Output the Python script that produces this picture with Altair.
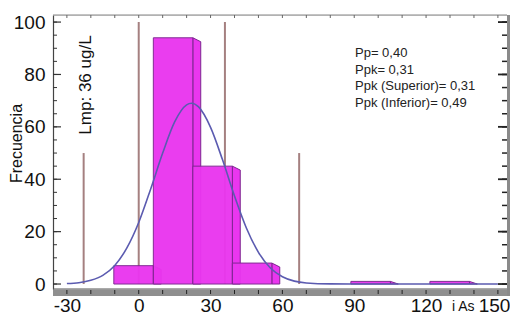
import altair as alt
import pandas as pd

# ---- data ----
bin_start = [-10.4, 6.1, 22.6, 39.1, 88.6, 121.6]
bin_end = [6.1, 22.6, 39.1, 55.6, 105.1, 138.1]
counts = [7, 94, 45, 8, 1, 1]

curve_x = [-30, -25, -20, -15, -10, -5, 0, 5, 10, 15, 20, 22, 25, 30, 35, 40, 45, 50, 55, 60, 65, 70, 80, 100, 150]
curve_y = [0.2, 0.5, 1.4, 3.3, 7.1, 13.7, 23.5, 36.3, 50, 61.9, 68.4, 69, 67.6, 59.8, 47.4, 33.6, 21.3, 12.1, 6.1, 2.8, 1.1, 0.4, 0.05, 0, 0]

spec_x = [-23, 0, 36, 67]
spec_top = [50, 100, 100, 50]

stats_lines = ["Pp= 0,40", "Ppk= 0,31", "Ppk (Superior)= 0,31", "Ppk (Inferior)= 0,49"]
lmp_label = "Lmp: 36 ug/L"
y_title = "Frecuencia"
x_title = "i As"

x_ticks = list(range(-30, 151, 10))
x_labels = [-30, 0, 30, 60, 90, 120, 150]
y_ticks = list(range(0, 101, 5))
y_labels = [0, 20, 40, 60, 80, 100]

# ---- styles ----
W, H = 454, 274
WALL = 3
DX, DY = 3.3, 1.5  # 3-D depth of the bars, in data units
BAR = "#ea36ef"
EDGE = "#7d2590"
CURVE = "#5b5bb0"
SPEC = "#a58080"
FONT = "Liberation Sans"

xs = alt.Scale(domain=[-35.8, 153.8], nice=False, zero=False)
ys = alt.Scale(domain=[-1.9, 102.7], nice=False, zero=False)

bars = pd.DataFrame({"x0": bin_start, "x1": bin_end, "n": counts, "id": range(len(counts))})
side_rows = []
for i, (e, n) in enumerate(zip(bin_end, counts)):
    side_rows.append({"id": i, "x": e, "top": n})
    side_rows.append({"id": i, "x": e + DX, "top": max(n - DY, 0)})
sides = pd.DataFrame(side_rows)
curve = pd.DataFrame({"x": curve_x, "y": curve_y})
spec = pd.DataFrame({"x": spec_x, "top": spec_top})
one = pd.DataFrame({"a": [0]})
xt = pd.DataFrame({"x": x_ticks})
xl = pd.DataFrame({"x": x_labels})
ytk = pd.DataFrame({"y": y_ticks})
yl = pd.DataFrame({"y": y_labels})

last_x = "datum.value == %d" % x_labels[-1]
base_axes = alt.Chart(xl).mark_point(opacity=0).encode(
    x=alt.X("x:Q", scale=xs, axis=alt.Axis(
        values=x_labels, title=None, ticks=False, domain=False, grid=False,
        labelFont=FONT, labelFontSize=19, labelColor="#111", labelPadding=7,
        labelExpr="datum.value + ''",
        labelAlign={"condition": {"test": last_x, "value": "right"}, "value": "center"},
        labelOffset={"condition": {"test": last_x, "value": 12}, "value": 0})),
    y=alt.Y("y:Q", scale=ys, axis=alt.Axis(values=y_labels, title=y_title, ticks=False, grid=False,
                                           domainColor="#444", domainWidth=1.2,
                                           labelFont=FONT, labelFontSize=19, labelColor="#111",
                                           labelPadding=8, titleFont=FONT,
                                           titleFontSize=16, titleFontWeight="normal",
                                           titleColor="#111", titleX=-37, titleY=128,
                                           titleBaseline="middle", titleAngle=270)),
).transform_calculate(y="0")

floor = alt.Chart(one).mark_rect(color="#8f8f8f").encode(
    x=alt.value(0), x2=alt.value(W + WALL), y=alt.value(H + 1), y2=alt.value(H + 7))
floor_top = alt.Chart(one).mark_rule(color="#555", strokeWidth=1).encode(
    x=alt.value(0), x2=alt.value(W), y=alt.value(H))
wall = alt.Chart(one).mark_rect(color="#8a8a8a").encode(
    x=alt.value(W), x2=alt.value(W + WALL), y=alt.value(0), y2=alt.value(H + 7))
top_line = alt.Chart(one).mark_rule(color="#888", strokeWidth=1.2).encode(
    x=alt.value(0), x2=alt.value(W), y=alt.value(0))

xt_bottom = alt.Chart(xt).mark_rule(color="#222", strokeWidth=1).encode(
    x=alt.X("x:Q", scale=xs), y=alt.value(H + 1), y2=alt.value(H + 5))
xt_top = alt.Chart(xt).mark_rule(color="#666", strokeWidth=1).encode(
    x=alt.X("x:Q", scale=xs), y=alt.value(0), y2=alt.value(3))
yt_left = alt.Chart(ytk).mark_rule(color="#333", strokeWidth=1).encode(
    y=alt.Y("y:Q", scale=ys), x=alt.value(0), x2=alt.value(4))
yt_left_major = alt.Chart(yl).mark_rule(color="#333", strokeWidth=1.2).encode(
    y=alt.Y("y:Q", scale=ys), x=alt.value(0), x2=alt.value(8))
yt_right = alt.Chart(ytk).mark_rule(color="#222", strokeWidth=1.5).encode(
    y=alt.Y("y:Q", scale=ys), x=alt.value(W - 5), x2=alt.value(W))
yt_right_major = alt.Chart(yl).mark_rule(color="#222", strokeWidth=1.8).encode(
    y=alt.Y("y:Q", scale=ys), x=alt.value(W - 9), x2=alt.value(W))

spec_lines = alt.Chart(spec).mark_rule(color=SPEC, strokeWidth=2).encode(
    x=alt.X("x:Q", scale=xs), y=alt.Y("top:Q", scale=ys), y2=alt.datum(0))

side_layer = alt.Chart(sides).mark_area(color=BAR, stroke=EDGE, strokeWidth=1, opacity=1).encode(
    x=alt.X("x:Q", scale=xs), y=alt.Y("top:Q", scale=ys), y2=alt.datum(0), detail="id:N")
front_layer = alt.Chart(bars).mark_rect(color=BAR, stroke=EDGE, strokeWidth=1, opacity=0.96).encode(
    x=alt.X("x0:Q", scale=xs), x2="x1:Q", y=alt.Y("n:Q", scale=ys), y2=alt.datum(0))

curve_layer = alt.Chart(curve).mark_line(color=CURVE, strokeWidth=1.6, interpolate="monotone").encode(
    x=alt.X("x:Q", scale=xs), y=alt.Y("y:Q", scale=ys))

stats = alt.Chart(one).mark_text(align="left", baseline="top", font=FONT, fontSize=13,
                                 lineHeight=16.5, color="#222").encode(
    x=alt.value(302), y=alt.value(32), text=alt.value(stats_lines))
lmp = alt.Chart(one).mark_text(angle=270, align="center", baseline="middle", font=FONT,
                               fontSize=17, color="#111").encode(
    x=alt.value(33), y=alt.value(70), text=alt.value(lmp_label))
xtitle = alt.Chart(one).mark_text(align="left", baseline="top", font=FONT,
                                  fontSize=14, color="#111").encode(
    x=alt.value(399), y=alt.value(285), text=alt.value(x_title))

chart = alt.layer(
    base_axes, floor, wall, top_line, floor_top, xt_bottom, xt_top, yt_left, yt_left_major,
    yt_right, yt_right_major, spec_lines, side_layer, front_layer, curve_layer, stats, lmp, xtitle
).properties(
    width=W, height=H,
    autosize=alt.AutoSizeParams(type="none"),
    padding={"left": 45, "top": 7, "right": WALL, "bottom": 26},
).configure_view(stroke=None).configure(background="white")

chart.save("out.html", embed_options={"renderer": "svg", "actions": False})
